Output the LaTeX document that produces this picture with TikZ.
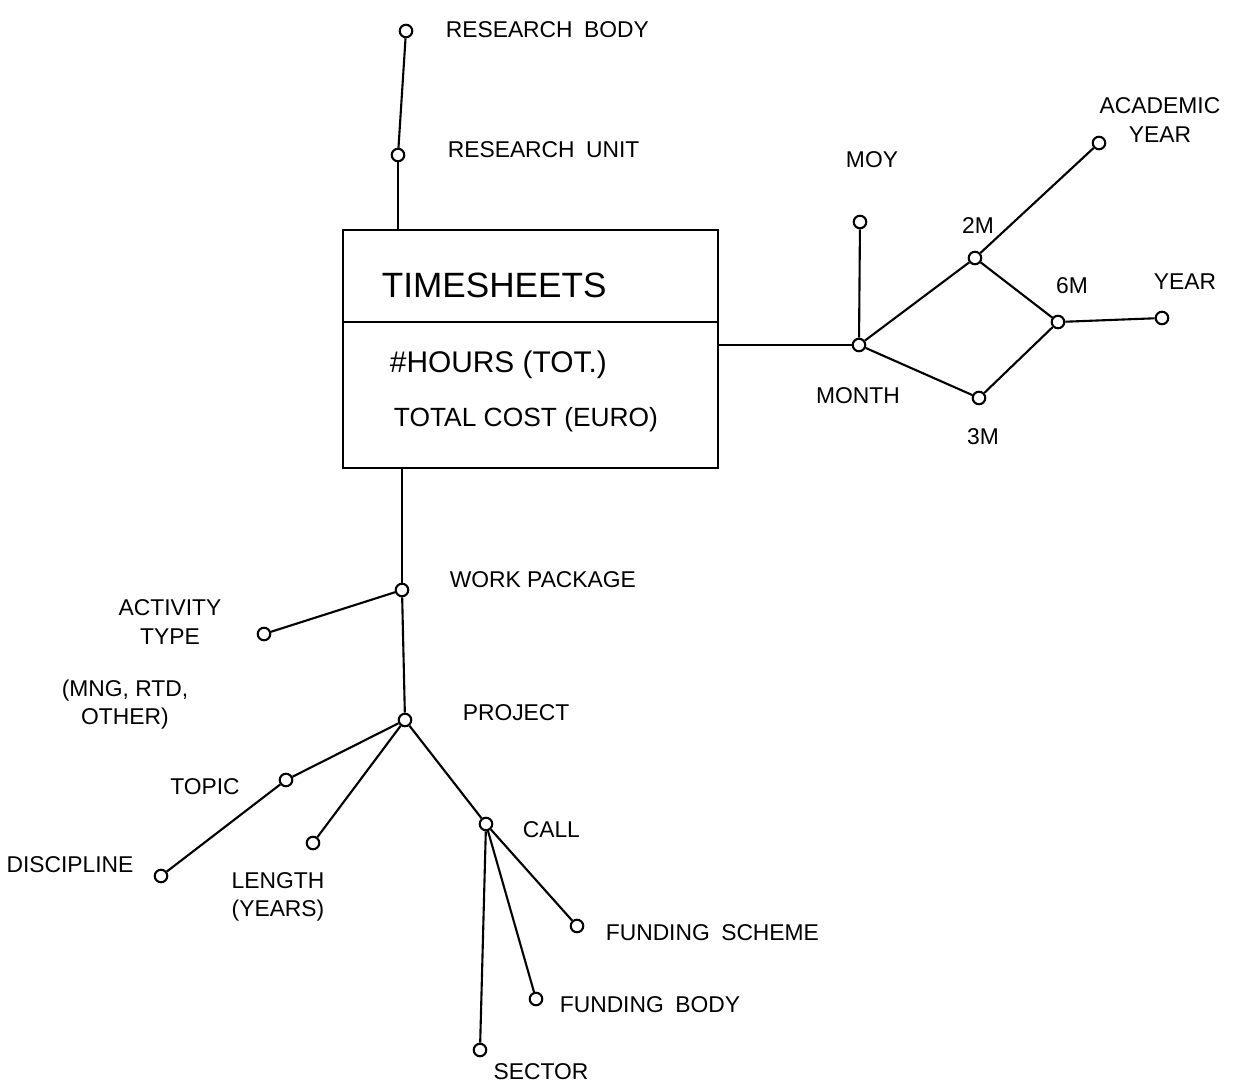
\documentclass[tikz,border=0pt]{standalone}
\usepackage{fontspec}
\setmainfont{Liberation Sans}
\usetikzlibrary{positioning}

\begin{document}
\begin{tikzpicture}[x=0.02cm,y=-0.02cm,line width=1.2pt]
  \tikzstyle{attr}=[circle,draw,line width=1.2pt,inner sep=0pt,minimum size=0.25cm,fill=white]
  \tikzstyle{lbl}=[font=\fontsize{13}{16}\selectfont,inner sep=1pt]
  \tikzstyle{lblc}=[lbl,align=center]
  \useasboundingbox (0,0) rectangle (1242,1086);
  % fact
  \node[draw,line width=1.2pt,minimum width=7.5cm,minimum height=4.76cm] (fact) at (530.5,349) {};
  \draw (343,322) -- (718,322);
  \node[anchor=west,font=\fontsize{20}{24}\selectfont] (title) at (375,285) {TIMESHEETS};
  \node[anchor=west,font=\fontsize{17}{20}\selectfont] (hours) at (383,365) {\#HOURS (TOT.)};
  \node[anchor=west,font=\fontsize{15}{18}\selectfont] (cost) at (387,420) {TOTAL COST (EURO)};
  % research
  \node[attr] (rb) at (406,31) {};
  \node[attr] (ru) at (398,155) {};
  \node[lbl,anchor=west] (rbl) at (443,30) {RESEARCH\enspace BODY};
  \node[lbl,anchor=west] (rul) at (445,150) {RESEARCH\enspace UNIT};
  \draw (rb) -- (ru);
  \draw (ru) -- (ru |- fact.north);
  % time
  \node[attr] (month) at (859,345) {};
  \node[attr] (moy) at (860,222) {};
  \node[attr] (m2) at (975,258) {};
  \node[attr] (m3) at (979,398) {};
  \node[attr] (m6) at (1058,322) {};
  \node[attr] (year) at (1162,318) {};
  \node[attr] (ayear) at (1099,143) {};
  \node[lbl] (moyl) at (872,160) {MOY};
  \node[lbl] (monthl) at (858,396) {MONTH};
  \node[lbl] (m2l) at (978,226) {2M};
  \node[lbl] (m3l) at (983,437) {3M};
  \node[lbl] (m6l) at (1072,286) {6M};
  \node[lbl] (yearl) at (1185,282) {YEAR};
  \node[lblc] (ayearl) at (1160,120) {ACADEMIC\\YEAR};
  \draw (fact.east |- month) -- (month);
  \draw (month) -- (moy);
  \draw (month) -- (m2) -- (m6) -- (year);
  \draw (month) -- (m3) -- (m6);
  \draw (m2) -- (ayear);
  % project
  \node[attr] (wp) at (402,590) {};
  \node[attr] (act) at (264,634) {};
  \node[attr] (prj) at (405,720) {};
  \node[attr] (topic) at (286,780) {};
  \node[attr] (disc) at (161,876) {};
  \node[attr] (len) at (313,843) {};
  \node[attr] (call) at (486,824) {};
  \node[attr] (fsch) at (577,926) {};
  \node[attr] (fbody) at (536,999) {};
  \node[attr] (sector) at (480,1050) {};
  \node[lbl,anchor=west] (wpl) at (447,580) {WORK PACKAGE};
  \node[lblc] (actl) at (170,622) {ACTIVITY\\TYPE};
  \node[lblc] (actv) at (125,705) {(MNG, RTD,\\OTHER)};
  \node[lbl,anchor=west] (prjl) at (460,713) {PROJECT};
  \node[lbl] (topicl) at (205,787) {TOPIC};
  \node[lbl] (discl) at (70,865) {DISCIPLINE};
  \node[lblc] (lenl) at (278,897) {LENGTH\\(YEARS)};
  \node[lbl,anchor=west] (calll) at (520,830) {CALL};
  \node[lbl,anchor=west] (fschl) at (603,933) {FUNDING\enspace SCHEME};
  \node[lbl,anchor=west] (fbodyl) at (557,1005) {FUNDING\enspace BODY};
  \node[lbl] (sectorl) at (541,1072) {SECTOR};
  \draw (fact.south -| wp) -- (wp);
  \draw (wp) -- (act);
  \draw (wp) -- (prj);
  \draw (prj) -- (topic) -- (disc);
  \draw (prj) -- (len);
  \draw (prj) -- (call);
  \draw (call) -- (fsch);
  \draw (call) -- (fbody);
  \draw (call) -- (sector);
\end{tikzpicture}
\end{document}
